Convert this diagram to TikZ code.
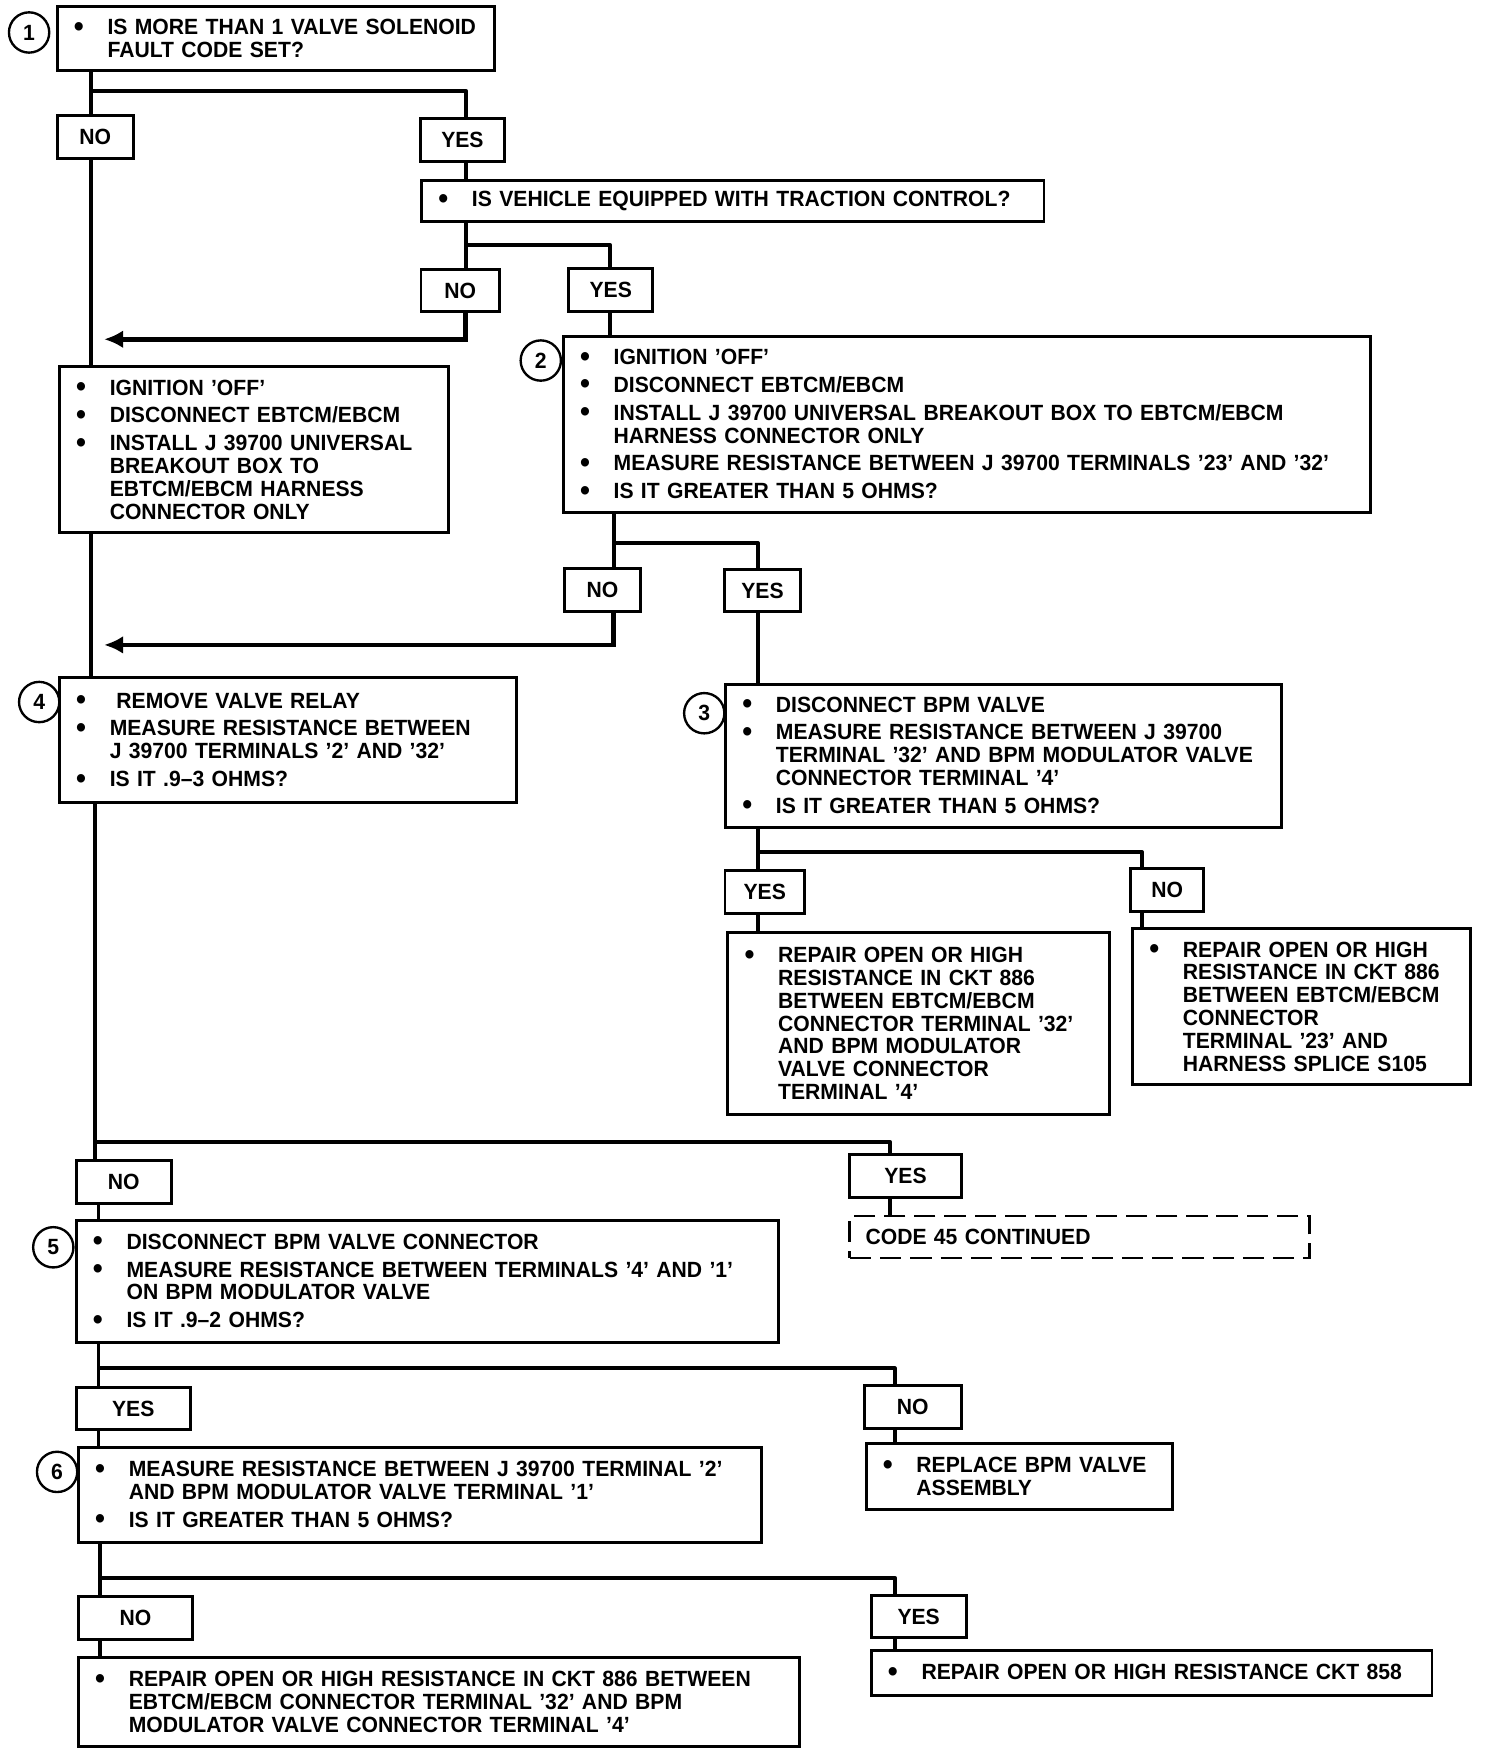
\documentclass[tikz,border=0pt]{standalone}
\usepackage{fontspec}
\setmainfont{Liberation Sans}[FakeStretch=0.96]
\usetikzlibrary{arrows.meta, positioning}
\tikzset{node distance=2cm, auto}
\tikzset{
  txt/.style={font=\fontsize{11.2}{11.6}\selectfont\bfseries},
  chk/.style={txt, draw, line width=1.5pt, inner xsep=0.3cm, inner ysep=1pt, align=left},
  ans/.style={txt, draw, line width=1.5pt, inner sep=0pt, minimum height=0.76cm},
  num/.style={txt, draw, circle, line width=1.2pt, inner sep=0pt, minimum size=0.72cm},
  link/.style={line width=2pt, line join=round},
  flow/.style={line width=2.4pt, -{Latex[length=0.34cm,width=0.32cm]}}
}
\newcommand{\bul}[1]{\makebox[0.6cm][l]{\raisebox{-0.8pt}{\fontsize{15}{15}\selectfont\textbullet}}\mbox{#1}}
\newcommand{\wrp}[1]{\hspace*{0.6cm}\mbox{#1}}
\newcommand{\nxt}{\\[0.09cm]}

\begin{document}
\begin{tikzpicture}[x=0.02cm, y=-0.02cm]
\useasboundingbox (0,0) rectangle (1329,1563);
%% step 1
  \node[num] (n1) at (26,29) {1};
  \node[chk, text width=7.22cm, minimum height=1.14cm] (q1) at (246.5,34.5)
    {\bul{IS MORE THAN 1 VALVE SOLENOID}\\\wrp{FAULT CODE SET?}};
  \node[ans, minimum width=1.36cm] (no1) at (85,122.5) {NO};
  \node[ans, minimum width=1.5cm] (yes1) at (413,125) {YES};
  \coordinate (m1) at (81,81);
  \coordinate (k1) at (416,81);
  \draw[link] (q1.south -| m1) -- (no1.north -| m1);
  \draw[link] (m1) -- (k1) -- (yes1.north -| k1);
%% traction control
  \node[chk, text width=10.52cm, minimum height=0.74cm] (q2) at (654.5,179.5)
    {\bul{IS VEHICLE EQUIPPED WITH TRACTION CONTROL?}};
  \draw[link] (yes1.south -| k1) -- (q2.north -| k1);
  \node[ans, minimum width=1.4cm] (no2) at (411,259.5) {NO};
  \node[ans, minimum width=1.5cm] (yes2) at (545.5,259) {YES};
  \coordinate (m2) at (416,219);
  \coordinate (k2) at (545,219);
  \draw[link] (q2.south -| m2) -- (no2.north -| m2);
  \draw[link] (m2) -- (k2) -- (yes2.north -| k2);
  \coordinate (a1) at (93,303);
  \draw[flow] (no2.south -| m2) |- (a1);
%% left hand setup
  \node[chk, text width=6.36cm, minimum height=2.98cm] (setup) at (227,401.5)
    {\bul{IGNITION 'OFF'}\nxt\bul{DISCONNECT EBTCM/EBCM}\nxt
     \bul{INSTALL J 39700 UNIVERSAL}\\\wrp{BREAKOUT BOX TO}\\
     \wrp{EBTCM/EBCM HARNESS}\\\wrp{CONNECTOR ONLY}};
  \draw[link] (no1.south -| m1) -- (setup.north -| m1);
%% step 2
  \node[num] (n2) at (483,322) {2};
  \node[chk, text width=13.82cm, minimum height=3.14cm] (q3) at (863.5,379.3)
    {\bul{IGNITION 'OFF'}\nxt\bul{DISCONNECT EBTCM/EBCM}\nxt
     \bul{INSTALL J 39700 UNIVERSAL BREAKOUT BOX TO EBTCM/EBCM}\\
     \wrp{HARNESS CONNECTOR ONLY}\nxt
     \bul{MEASURE RESISTANCE BETWEEN J 39700 TERMINALS '23' AND '32'}\nxt
     \bul{IS IT GREATER THAN 5 OHMS?}};
  \draw[link] (yes2.south -| k2) -- (q3.north -| k2);
  \node[ans, minimum width=1.36cm] (no3) at (538,527) {NO};
  \node[ans, minimum width=1.36cm] (yes3) at (681,527.5) {YES};
  \coordinate (m3) at (548,485);
  \coordinate (k3) at (677,485);
  \draw[link] (q3.south -| m3) -- (no3.north -| m3);
  \draw[link] (m3) -- (k3) -- (yes3.north -| k3);
  \coordinate (a2) at (93,576);
  \draw[flow] (no3.south -| m3) |- (a2);
%% step 4
  \node[num] (n4) at (35,627) {4};
  \node[chk, text width=7.57cm, minimum height=2.23cm] (q4) at (257.25,661.25)
    {\bul{\hspace{0.12cm}REMOVE VALVE RELAY}\nxt
     \bul{MEASURE RESISTANCE BETWEEN}\\\wrp{J 39700 TERMINALS '2' AND '32'}\nxt
     \bul{IS IT .9--3 OHMS?}};
  \draw[link] (setup.south -| m1) -- (q4.north -| m1);
%% step 3
  \node[num] (n3) at (629,637) {3};
  \node[chk, text width=9.34cm, minimum height=2.56cm] (q5) at (896.5,675)
    {\bul{DISCONNECT BPM VALVE}\nxt
     \bul{MEASURE RESISTANCE BETWEEN J 39700}\\
     \wrp{TERMINAL '32' AND BPM MODULATOR VALVE}\\
     \wrp{CONNECTOR TERMINAL '4'}\nxt
     \bul{IS IT GREATER THAN 5 OHMS?}};
  \draw[link] (yes3.south -| k3) -- (q5.north -| k3);
  \node[ans, minimum width=1.42cm] (yes4) at (683,796.5) {YES};
  \node[ans, minimum width=1.3cm] (no4) at (1042.5,794.75) {NO};
  \coordinate (m4) at (677,761);
  \coordinate (k4) at (1020,761);
  \draw[link] (q5.south -| m4) -- (yes4.north -| m4);
  \draw[link] (m4) -- (k4) -- (no4.north -| k4);
  \node[chk, text width=6.22cm, minimum height=3.24cm] (fixA) at (820.5,914)
    {\bul{REPAIR OPEN OR HIGH}\\\wrp{RESISTANCE IN CKT 886}\\
     \wrp{BETWEEN EBTCM/EBCM}\\\wrp{CONNECTOR TERMINAL '32'}\\
     \wrp{AND BPM MODULATOR}\\\wrp{VALVE CONNECTOR}\\\wrp{TERMINAL '4'}};
  \node[chk, text width=5.43cm, minimum height=2.8cm] (fixB) at (1162.25,899)
    {\bul{REPAIR OPEN OR HIGH}\\\wrp{RESISTANCE IN CKT 886}\\
     \wrp{BETWEEN EBTCM/EBCM}\\\wrp{CONNECTOR}\\
     \wrp{TERMINAL '23' AND}\\\wrp{HARNESS SPLICE S105}};
  \draw[link] (yes4.south -| m4) -- (fixA.north -| m4);
  \draw[link] (no4.south -| k4) -- (fixB.north -| k4);
%% answer to step 4
  \node[ans, minimum width=1.7cm] (no5) at (110.5,1055.7) {NO};
  \node[ans, minimum width=1.99cm] (yes5) at (808.75,1050.3) {YES};
  \coordinate (m5) at (85,1020);
  \coordinate (k5) at (795,1020);
  \draw[link] (q4.south -| m5) -- (no5.north -| m5);
  \draw[link] (m5) -- (k5) -- (yes5.north -| k5);
  \node[txt, draw, dash pattern=on 0.38cm off 0.16cm, line width=1.5pt, inner xsep=0.28cm,
    inner ysep=0pt, text width=7.66cm, minimum height=0.75cm, align=left] (cont) at (964.5,1104.8)
    {CODE 45 CONTINUED};
  \draw[link] (yes5.south -| k5) -- (cont.north -| k5);
%% step 5
  \node[num] (n5) at (47.6,1114) {5};
  \node[chk, text width=11.94cm, minimum height=2.17cm] (q6) at (381.5,1144.65)
    {\bul{DISCONNECT BPM VALVE CONNECTOR}\nxt
     \bul{MEASURE RESISTANCE BETWEEN TERMINALS '4' AND '1'}\\
     \wrp{ON BPM MODULATOR VALVE}\nxt
     \bul{IS IT .9--2 OHMS?}};
  \coordinate (m6) at (88,1222);
  \coordinate (k6) at (799,1222);
  \draw[link] (no5.south -| m6) -- (q6.north -| m6);
  \node[ans, minimum width=2.04cm] (yes6) at (119,1258) {YES};
  \node[ans, minimum width=1.73cm] (no6) at (815.25,1256.6) {NO};
  \draw[link] (q6.south -| m6) -- (yes6.north -| m6);
  \draw[link] (m6) -- (k6) -- (no6.north -| k6);
%% step 6
  \node[num] (n6) at (51,1314.6) {6};
  \node[chk, text width=11.6cm, minimum height=1.7cm] (q7) at (375,1335.15)
    {\bul{MEASURE RESISTANCE BETWEEN J 39700 TERMINAL '2'}\\
     \wrp{AND BPM MODULATOR VALVE TERMINAL '1'}\nxt
     \bul{IS IT GREATER THAN 5 OHMS?}};
  \node[chk, text width=4.87cm, minimum height=1.19cm] (repl) at (910.25,1318.7)
    {\bul{REPLACE BPM VALVE}\\\wrp{ASSEMBLY}};
  \draw[link] (yes6.south -| m6) -- (q7.north -| m6);
  \draw[link] (no6.south -| k6) -- (repl.north -| k6);
  \coordinate (m7) at (89,1409);
  \coordinate (k7) at (799,1409);
  \node[ans, minimum width=2.04cm] (no7) at (121,1445.25) {NO};
  \node[ans, minimum width=1.7cm] (yes7) at (820.5,1443.75) {YES};
  \draw[link] (q7.south -| m7) -- (no7.north -| m7);
  \draw[link] (m7) -- (k7) -- (yes7.north -| k7);
%% repairs
  \node[chk, text width=12.28cm, minimum height=1.6cm] (fixC) at (392,1520)
    {\bul{REPAIR OPEN OR HIGH RESISTANCE IN CKT 886 BETWEEN}\\
     \wrp{EBTCM/EBCM CONNECTOR TERMINAL '32' AND BPM}\\
     \wrp{MODULATOR VALVE CONNECTOR TERMINAL '4'}};
  \node[chk, text width=9.42cm, minimum height=0.8cm] (fixD) at (1028.5,1494)
    {\bul{REPAIR OPEN OR HIGH RESISTANCE CKT 858}};
  \draw[link] (no7.south -| m7) -- (fixC.north -| m7);
  \draw[link] (yes7.south -| k7) -- (fixD.north -| k7);
\end{tikzpicture}
\end{document}
